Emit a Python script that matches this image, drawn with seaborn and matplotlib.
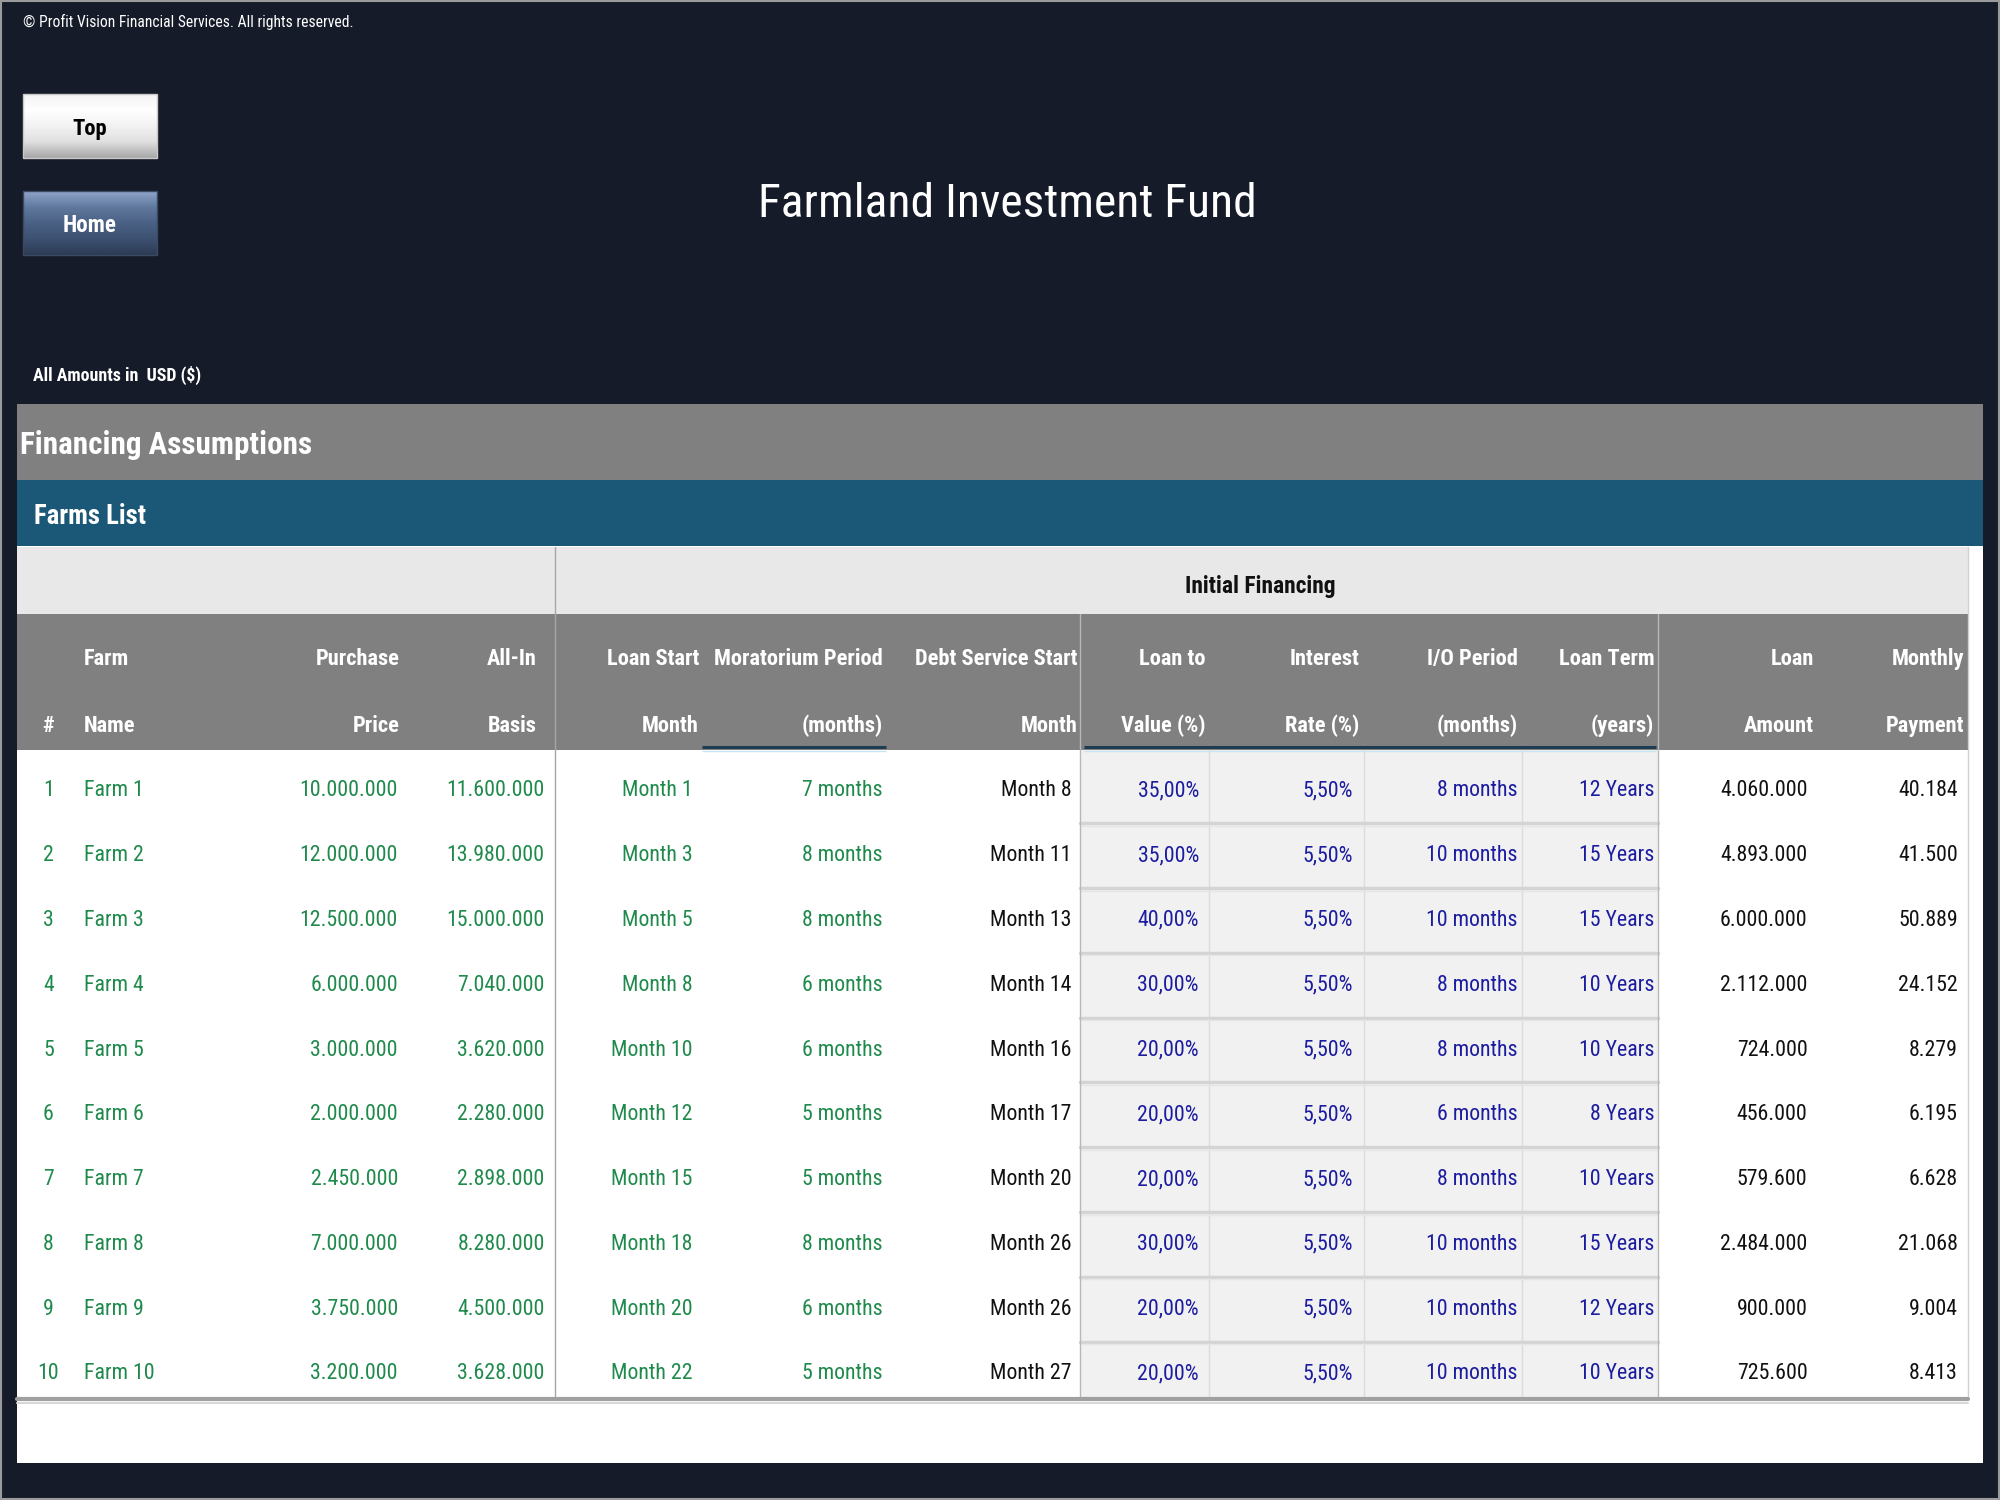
import numpy as np
import matplotlib
matplotlib.use("Agg")
import matplotlib.pyplot as plt
import seaborn as sns
from matplotlib import font_manager
from matplotlib.patches import Rectangle
from matplotlib.colors import LinearSegmentedColormap

# ---- data read from the sheet ----
farm_no = [1, 2, 3, 4, 5, 6, 7, 8, 9, 10]
farm_names = ["Farm 1", "Farm 2", "Farm 3", "Farm 4", "Farm 5",
              "Farm 6", "Farm 7", "Farm 8", "Farm 9", "Farm 10"]
purchase_price = [10000000, 12000000, 12500000, 6000000, 3000000,
                  2000000, 2450000, 7000000, 3750000, 3200000]
all_in_basis = [11600000, 13980000, 15000000, 7040000, 3620000,
                2280000, 2898000, 8280000, 4500000, 3628000]
loan_start = [1, 3, 5, 8, 10, 12, 15, 18, 20, 22]
moratorium = [7, 8, 8, 6, 6, 5, 5, 8, 6, 5]
debt_start = [8, 11, 13, 14, 16, 17, 20, 26, 26, 27]
loan_to_value = [35, 35, 40, 30, 20, 20, 20, 30, 20, 20]
interest_rate = [5.5, 5.5, 5.5, 5.5, 5.5, 5.5, 5.5, 5.5, 5.5, 5.5]
io_period = [8, 10, 10, 8, 8, 6, 8, 10, 10, 10]
loan_term = [12, 15, 15, 10, 10, 8, 10, 15, 12, 10]
loan_amount = [4060000, 4893000, 6000000, 2112000, 724000,
               456000, 579600, 2484000, 900000, 725600]
monthly_payment = [40184, 41500, 50889, 24152, 8279, 6195, 6628, 21068, 9004, 8413]

header_top = ["", "Farm", "Purchase", "All-In", "Loan Start", "Moratorium Period",
              "Debt Service Start", "Loan to", "Interest", "I/O Period", "Loan Term",
              "Loan", "Monthly"]
header_bottom = ["#", "Name", "Price", "Basis", "Month", "(months)", "Month",
                 "Value (%)", "Rate (%)", "(months)", "(years)", "Amount", "Payment"]


def thousands(v):
    return f"{v:,.0f}".replace(",", ".")


def pct(v):
    return f"{v:.2f}%".replace(".", ",")


GREEN = "#1f8a4c"
BLUE = "#1c1ca0"
BLACK = "#111111"

columns = [
    (38, "center", GREEN, [str(v) for v in farm_no]),
    (66, "left", GREEN, farm_names),
    (312, "right", GREEN, [thousands(v) for v in purchase_price]),
    (427, "right", GREEN, [thousands(v) for v in all_in_basis]),
    (543, "right", GREEN, [f"Month {v}" for v in loan_start]),
    (692, "right", GREEN, [f"{v} months" for v in moratorium]),
    (840, "right", BLACK, [f"Month {v}" for v in debt_start]),
    (940, "right", BLUE, [pct(v) for v in loan_to_value]),
    (1061, "right", BLUE, [pct(v) for v in interest_rate]),
    (1190, "right", BLUE, [f"{v} months" for v in io_period]),
    (1297, "right", BLUE, [f"{v} Years" for v in loan_term]),
    (1417, "right", BLACK, [thousands(v) for v in loan_amount]),
    (1535, "right", BLACK, [thousands(v) for v in monthly_payment]),
]
header_x = [38, 66, 313, 421, 548, 692, 845, 945, 1066, 1190, 1297, 1422, 1540]

sns.set_theme(style="white")

# pick a narrow face if one is installed
fonts = font_manager.fontManager.ttflist
names = {f.name for f in fonts}
family, stretch, k = "DejaVu Sans", "normal", 0.72
if "Liberation Sans Narrow" in names:
    family, stretch, k = "Liberation Sans Narrow", "normal", 1.0
elif "Roboto Condensed" in names:
    family, stretch, k = "Roboto Condensed", "normal", 0.9
elif any(f.name == "DejaVu Sans" and f.stretch == "condensed" for f in fonts):
    family, stretch, k = "DejaVu Sans", "condensed", 0.8
plt.rcParams["font.family"] = [family, "DejaVu Sans"]
plt.rcParams["font.stretch"] = stretch

fig = plt.figure(figsize=(20, 15), dpi=100)
fig.patch.set_facecolor("#151b28")
ax = fig.add_axes([0, 0, 1, 1])
ax.set_facecolor("#151b28")
W, H = 1568, 1176


def rect(x0, y0, x1, y1, color, **kw):
    ax.add_patch(Rectangle((x0, y0), x1 - x0, y1 - y0, facecolor=color,
                           edgecolor=kw.pop("ec", "none"), **kw))


rect(1, 1, W - 1, H - 1, "none", ec="#9a9a9a", lw=1.5)

ax.text(18, 17, "\u00a9 Profit Vision Financial Services. All rights reserved.",
        color="white", fontsize=12.5 * k, va="center", ha="left")
ax.text(790, 160, "Farmland Investment Fund", color="white", fontsize=38 * k,
        va="center", ha="center")
ax.text(26, 294, "All Amounts in  USD ($)", color="white", fontsize=14.3 * k,
        fontweight="bold", va="center", ha="left")

# buttons
top_cmap = LinearSegmentedColormap.from_list(
    "top", ["#f4f4f4", "#ffffff", "#f2f2f2", "#e0e0e0", "#a8a8a8"])
home_cmap = LinearSegmentedColormap.from_list(
    "home", ["#8ea4c8", "#5f789d", "#4a6184", "#3d5172", "#2e3c55"])
grad = np.linspace(0, 1, 64).reshape(-1, 1)
ax.imshow(grad, cmap=top_cmap, extent=(18, 123, 124, 74), aspect="auto", zorder=2)
ax.imshow(grad, cmap=home_cmap, extent=(18, 123, 200, 150), aspect="auto", zorder=2)
rect(18, 74, 123, 124, "none", ec="#c8c8c8", lw=1, zorder=3)
rect(18, 150, 123, 200, "none", ec="#3a4a63", lw=1, zorder=3)
ax.text(70, 101, "Top", color="black", fontsize=18 * k, fontweight="bold",
        ha="center", va="center", zorder=4)
ax.text(70, 177, "Home", color="white", fontsize=18.5 * k, fontweight="bold",
        ha="center", va="center", zorder=4)

# section bands
rect(13, 317, 1555, 376, "#808080")
ax.text(16, 349, "Financing Assumptions", color="white", fontsize=24.9 * k,
        fontweight="bold", va="center", ha="left")
rect(13, 376, 1555, 428, "#1b5878")
ax.text(27, 405, "Farms List", color="white", fontsize=21.4 * k,
        fontweight="bold", va="center", ha="left")

rect(13, 428, 1555, 1147, "white")

# table headers
rect(13, 429, 1543, 481, "#e8e8e8")
ax.text(988, 460, "Initial Financing", color=BLACK, fontsize=18.8 * k,
        fontweight="bold", va="center", ha="center")
rect(13, 481, 1543, 588, "#808080")
for i, (top, bottom) in enumerate(zip(header_top, header_bottom)):
    ha = columns[i][1]
    ax.text(header_x[i], 517, top, color="white", fontsize=17.9 * k,
            fontweight="bold", va="center", ha=ha)
    ax.text(header_x[i], 569, bottom, color="white", fontsize=17.9 * k,
            fontweight="bold", va="center", ha=ha)
for x0, x1 in [(550, 695), (850, 1298)]:
    ax.plot([x0, x1], [586, 586], color="#1f3c52", lw=2.2, solid_capstyle="butt")
    ax.plot([x0, x1], [588.5, 588.5], color="#c8e4f0", lw=1, solid_capstyle="butt")

# data rows
n_rows = len(farm_no)
row_h = 50.8
row_y = 620 + row_h * np.arange(n_rows)
body_top, body_bot = 588, 1097

rect(847, body_top, 1300, body_bot, "#f1f1f1")
for x in [948, 1069, 1193]:
    ax.plot([x, x], [body_top, body_bot], color="#dcdcdc", lw=1)
for y in row_y[:-1] + row_h / 2:
    ax.plot([847, 1300], [y, y], color="#d4d4d4", lw=2.5)
    ax.plot([847, 1300], [y + 2, y + 2], color="#e6e6e6", lw=1)

ax.plot([435, 435], [429, body_bot], color="#a6a6a6", lw=1)
ax.plot([847, 847], [481, body_bot], color="#b8b8b8", lw=1)
ax.plot([1300, 1300], [481, body_bot], color="#b8b8b8", lw=1)
ax.plot([1543, 1543], [429, body_bot], color="#d0d0d0", lw=1)

for x, ha, color, labels in columns:
    for y, lab in zip(row_y, labels):
        ax.text(x, y, lab, color=color, fontsize=17.5 * k, ha=ha, va="center")

ax.plot([13, 1543], [body_bot, body_bot], color="#a0a0a0", lw=3)
ax.plot([13, 1543], [body_bot + 3, body_bot + 3], color="#d8d8d8", lw=1.5)

ax.set_xlim(0, W)
ax.set_ylim(H, 0)
ax.axis("off")

fig.savefig("out.png", dpi=100, facecolor=fig.get_facecolor())
